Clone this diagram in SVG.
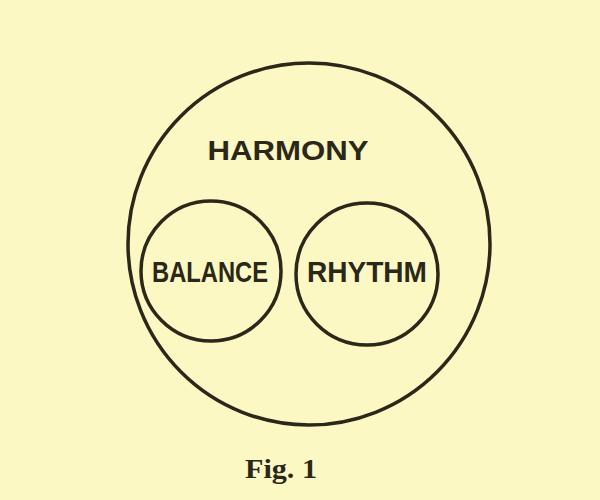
<svg xmlns="http://www.w3.org/2000/svg" width="600" height="500" viewBox="0 0 600 500">
<style>
.ring{fill:none;stroke:#2b2719;stroke-width:3.5}
.lbl{font-family:"Liberation Sans",Arial,sans-serif;font-weight:bold;fill:#2b2719;text-anchor:middle}
.cap{font-family:"Liberation Serif","Times New Roman",serif;font-weight:bold;fill:#2b2719;text-anchor:middle}
</style>
<rect width="600" height="500" fill="#fcf8c4"/>
<g id="harmony">
<circle class="ring" cx="309" cy="244" r="181"/>
<text class="lbl" x="288" y="160" font-size="27" textLength="161" lengthAdjust="spacingAndGlyphs">HARMONY</text>
</g>
<g id="balance">
<circle class="ring" cx="211" cy="271" r="70"/>
<text class="lbl" x="210" y="282" font-size="30" textLength="116" lengthAdjust="spacingAndGlyphs">BALANCE</text>
</g>
<g id="rhythm">
<circle class="ring" cx="367" cy="274" r="71"/>
<text class="lbl" x="367" y="282" font-size="30" textLength="120" lengthAdjust="spacingAndGlyphs">RHYTHM</text>
</g>
<g id="connectors"/>
<text class="cap" x="281" y="478" font-size="27" textLength="72" lengthAdjust="spacingAndGlyphs">Fig. 1</text>
</svg>
